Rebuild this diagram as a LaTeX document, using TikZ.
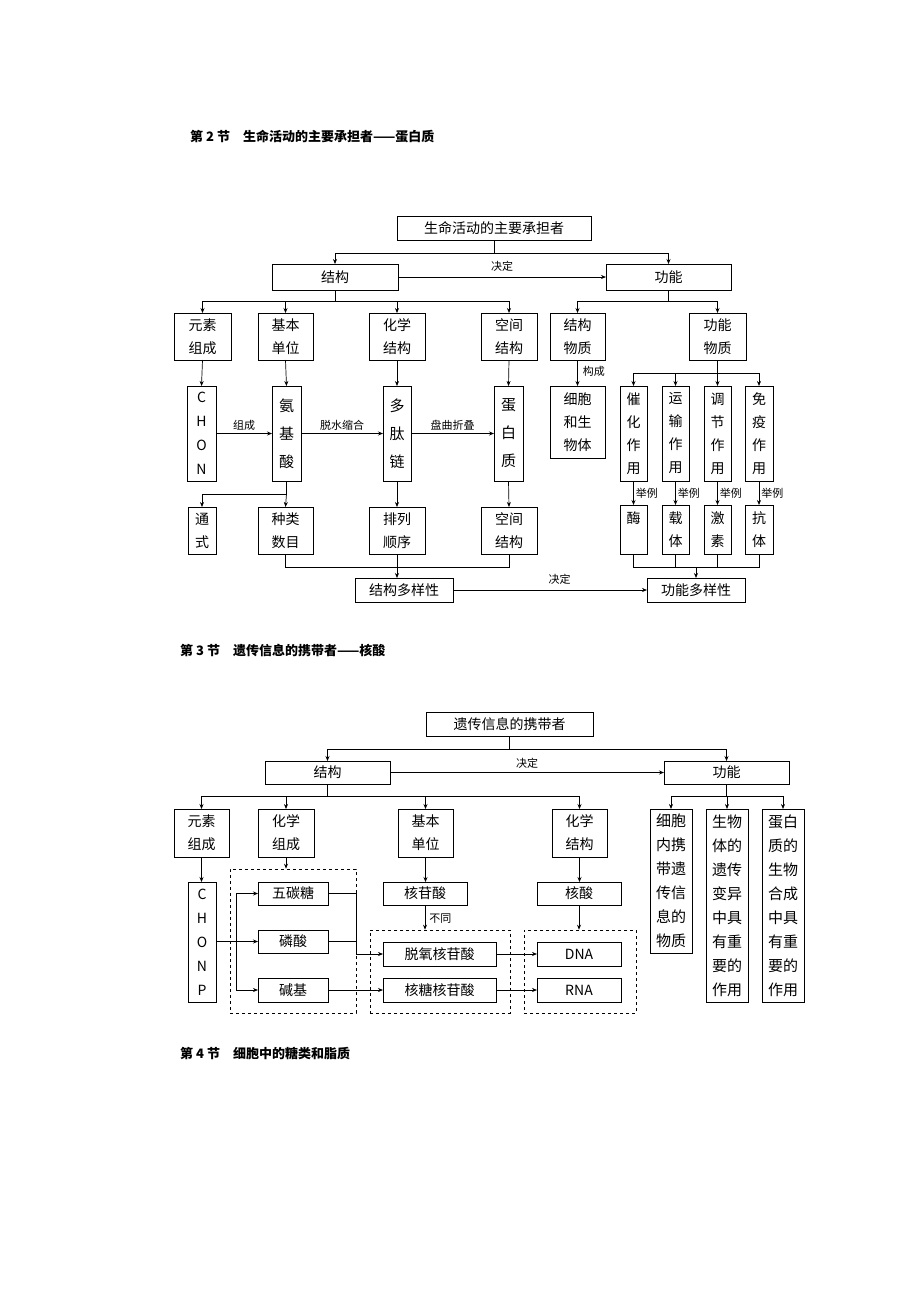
\documentclass[tikz,border=0pt]{standalone}
\usepackage{fontspec}
\setmainfont{Noto Sans CJK SC}
\usetikzlibrary{arrows.meta}
\newcommand\bx[7][]{\node[box,minimum width={(#5-#3)*1pt},minimum height={(#6-#4)*1pt},#1] (#2) at ({(#3+#5)/2},{(#4+#6)/2}) {#7};}
\begin{document}
\begin{tikzpicture}[x=1pt,y=-1pt,
 box/.style={draw,line width=0.8pt,inner sep=0pt,outer sep=0pt,align=center,font=\fontsize{14}{23}\selectfont},
 tall/.style={font=\fontsize{15}{24}\selectfont},
 ar/.style={-{Stealth[length=5pt,width=4pt]}},
 ln/.style={line width=0.7pt},
 lab/.style={font=\fontsize{11}{12}\selectfont,inner sep=1pt},
 dsh/.style={draw,dashed,line width=0.6pt},
 ttl/.style={anchor=west,font=\bfseries\fontsize{13}{15}\selectfont,inner sep=0pt}]
\useasboundingbox[fill=white] (0,0) rectangle (920,1302);
\node[ttl] (t2) at (190,137) {第 2 节\quad 生命活动的主要承担者——蛋白质};
\node[ttl] (t3) at (180,650) {第 3 节\quad 遗传信息的携带者——核酸};
\node[ttl] (t4) at (180,1053) {第 4 节\quad 细胞中的糖类和脂质};
% ---------- top diagram
\bx{root}{397}{216}{591}{240}{生命活动的主要承担者}
\bx{jg}{272}{264}{398}{290}{结构}
\bx{gn}{606}{264}{731}{290}{功能}
\bx{ra}{174}{313}{231}{360}{元素\\组成}
\bx{rb}{258}{313}{313}{360}{基本\\单位}
\bx{rc}{369}{313}{425}{360}{化学\\结构}
\bx{rd}{481}{313}{537}{360}{空间\\结构}
\bx[font=\fontsize{14}{24}\selectfont]{sa}{187}{386}{216}{481}{C\\H\\O\\N}
\bx[font=\fontsize{15}{28}\selectfont]{sb}{272}{386}{301}{481}{氨\\基\\酸}
\bx[font=\fontsize{15}{28}\selectfont]{sc}{383}{386}{411}{481}{多\\肽\\链}
\bx[font=\fontsize{15}{28}\selectfont]{sd}{494}{386}{523}{481}{蛋\\白\\质}
\bx{ta}{188}{507}{216}{554}{通\\式}
\bx{tb}{258}{507}{313}{554}{种类\\数目}
\bx{tc}{369}{507}{425}{554}{排列\\顺序}
\bx{td}{481}{507}{537}{554}{空间\\结构}
\bx{dy}{355}{578}{453}{602}{结构多样性}
\bx{gdy}{647}{578}{745}{602}{功能多样性}
\bx{jw}{550}{313}{605}{360}{结构\\物质}
\bx{gw}{689}{313}{746}{360}{功能\\物质}
\bx{xb}{550}{386}{605}{458}{细胞\\和生\\物体}
\bx{ch}{620}{386}{647}{481}{催\\化\\作\\用}
\bx{ys}{662}{386}{689}{481}{运\\输\\作\\用}
\bx{tj}{704}{386}{731}{481}{调\\节\\作\\用}
\bx{my}{745}{386}{773}{481}{免\\疫\\作\\用}
\bx{m}{620}{505}{647}{554}{酶\\\phantom{体}}
\bx{zt}{662}{505}{689}{554}{载\\体}
\bx{js}{704}{505}{731}{554}{激\\素}
\bx{kt}{745}{505}{773}{554}{抗\\体}
\begin{scope}[ln]
\draw (root.south) -- (494,253) coordinate (j0);
\draw[ar] (j0) -| (jg.north);
\draw[ar] (j0) -| (gn.north);
\draw[ar] (jg.east) -- node[lab,above=4pt]{决定} (gn.west);
\draw (jg.south) -- (335,301) coordinate (j1);
\foreach \n in {ra,rb,rc,rd} \draw[ar] (j1) -| (\n.north);
\foreach \a/\b in {ra/sa,rb/sb,rc/sc,rd/sd} \draw[ar] (\a.south) -- (\b.north);
\draw[ar] (sa.east) -- node[lab,above=2pt]{组成} (sb.west);
\draw[ar] (sb.east) -- node[lab,above=2pt]{脱水缩合} (sc.west);
\draw[ar] (sc.east) -- node[lab,above=2pt]{盘曲折叠} (sd.west);
\draw (sb.south) -- (286.5,494) coordinate (j2);
\draw[ar] (j2) -| (ta.north);
\draw[ar] (j2) -- (tb.north);
\draw[ar] (sc.south) -- (tc.north);
\draw[ar] (sd.south) -- (td.north);
\draw (tb.south) -- ++(0,13) -| (td.south);
\draw[ar] (tc.south) -- (tc.south |- dy.north);
\draw[ar] (dy.east) -- node[lab,above=4pt,pos=0.55]{决定} (gdy.west);
\draw (gn.south) -- (668.5,301) coordinate (j3);
\draw[ar] (j3) -| (jw.north);
\draw[ar] (j3) -| (gw.north);
\draw[ar] (jw.south) -- node[lab,right=4pt,pos=0.45]{构成} (xb.north);
\draw (gw.south) -- (717.5,373) coordinate (j4);
\foreach \n in {ch,ys,tj,my} \draw[ar] (j4) -| (\n.north);
\foreach \a/\b in {ch/m,ys/zt,tj/js,my/kt} \draw[ar] (\a.south) -- node[lab,right=1pt]{举例} (\b.north);
\draw (m.south) -- ++(0,13) coordinate (j5) -| (kt.south);
\draw (zt.south) -- (zt.south |- j5);
\draw (js.south) -- (js.south |- j5);
\coordinate (j6) at (696,567);
\draw[ar] (j6) -- (gdy.north);
\end{scope}
% ---------- bottom diagram
\bx{root2}{426}{712}{593}{736}{遗传信息的携带者}
\bx{jg2}{265}{761}{390}{784}{结构}
\bx{gn2}{664}{761}{789}{784}{功能}
\bx{ba}{174}{809}{229}{857}{元素\\组成}
\bx{bb}{258}{809}{314}{857}{化学\\组成}
\bx{bc}{398}{809}{453}{857}{基本\\单位}
\bx{bd}{552}{809}{607}{857}{化学\\结构}
\bx[tall]{fa}{650}{809}{692}{953}{细胞\\内携\\带遗\\传信\\息的\\物质}
\bx[tall]{fb}{706}{809}{748}{1002}{生物\\体的\\遗传\\变异\\中具\\有重\\要的\\作用}
\bx[tall]{fc}{762}{809}{804}{1002}{蛋白\\质的\\生物\\合成\\中具\\有重\\要的\\作用}
\bx[font=\fontsize{14}{24}\selectfont]{cp}{188}{882}{216}{1002}{C\\H\\O\\N\\P}
\node[dsh,minimum width=126pt,minimum height=144pt,inner sep=0pt] (d1) at (293,941) {};
\node[dsh,minimum width=140pt,minimum height=83pt,inner sep=0pt] (d2) at (440,971.5) {};
\node[dsh,minimum width=112pt,minimum height=83pt,inner sep=0pt] (d3) at (580,971.5) {};
\bx{wt}{258}{882}{328}{905}{五碳糖}
\bx{ls}{258}{930}{328}{953}{磷酸}
\bx{jj}{258}{978}{328}{1002}{碱基}
\bx{hga}{383}{882}{467}{905}{核苷酸}
\bx{tq}{383}{942}{496}{966}{脱氧核苷酸}
\bx{ht}{383}{978}{496}{1002}{核糖核苷酸}
\bx{hs}{537}{882}{621}{905}{核酸}
\bx[font=\rmfamily\fontsize{14}{16}\selectfont]{dna}{537}{942}{621}{966}{DNA}
\bx[font=\rmfamily\fontsize{14}{16}\selectfont]{rna}{537}{978}{621}{1002}{RNA}
\begin{scope}[ln]
\draw (root2.south) -- (509.5,749) coordinate (k0);
\draw[ar] (k0) -| (jg2.north);
\draw[ar] (k0) -| (gn2.north);
\draw[ar] (jg2.east) -- node[lab,above=3pt]{决定} (gn2.west);
\draw (jg2.south) -- (327.5,796) coordinate (k1);
\foreach \n in {ba,bb,bc,bd} \draw[ar] (k1) -| (\n.north);
\draw (gn2.south) -- (726.5,796) coordinate (k2);
\foreach \n in {fa,fb,fc} \draw[ar] (k2) -| (\n.north);
\draw[ar] (ba.south) -- (cp.north -| ba.south);
\draw[ar] (bb.south) -- (bb.south |- d1.north);
\draw[ar] (bc.south) -- (bc.south |- hga.north);
\draw[ar] (hga.south) -- node[lab,right=3pt,pos=0.55]{不同} (hga.south |- d2.north);
\draw[ar] (bd.south) -- (bd.south |- hs.north);
\draw[ar] (hs.south) -- (hs.south |- d3.north);
\draw[ar] (cp.east |- ls.west) -- (ls.west);
\coordinate (v1) at (236,893.5);
\coordinate (v2) at (236,990);
\draw (v1) -- (v2);
\draw[ar] (v1) -- (wt.west);
\draw[ar] (v2) -- (jj.west);
\draw (wt.east) -- (356,893.5) -- (356,954);
\draw (ls.east) -- (356,941.5);
\draw[ar] (356,954) -- (tq.west);
\draw[ar] (jj.east) -- (ht.west);
\draw[ar] (tq.east) -- (dna.west);
\draw[ar] (ht.east) -- (rna.west);
\end{scope}
\end{tikzpicture}
\end{document}
